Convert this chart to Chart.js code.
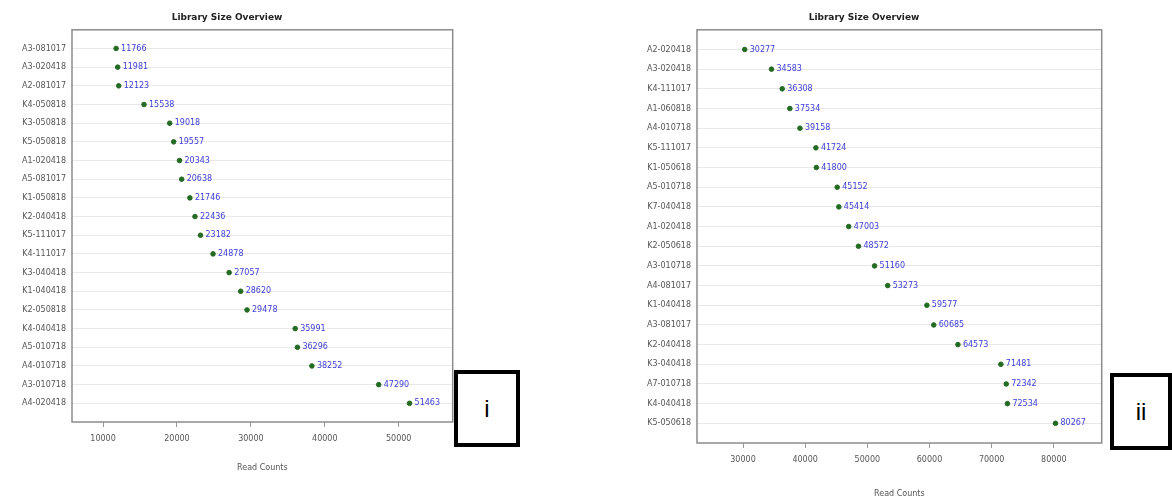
<!DOCTYPE html>
<html>
<head>
<meta charset="utf-8">
<script src="https://cdn.jsdelivr.net/npm/chart.js@4/dist/chart.umd.min.js"></script>
<style>
  body { margin: 0; background: #fff; width: 1172px; height: 500px; position: relative; overflow: hidden; }
  .wrap { position: absolute; }
  .tag { position: absolute; border: 4px solid #000; box-sizing: border-box; background: #fff;
         font-family: "Liberation Sans", Arial, sans-serif; font-size: 24px; display: flex;
         align-items: center; justify-content: center; }
</style>
</head>
<body>
<div class="wrap" id="wrapA" style="left:0px;top:0px;width:456px;height:473px;"><canvas id="chartA"></canvas></div>
<div class="wrap" id="wrapB" style="left:625px;top:0px;width:480px;height:499px;"><canvas id="chartB"></canvas></div>
<div class="tag" style="left:454px;top:370px;width:66px;height:77px;">i</div>
<div class="tag" style="left:1110px;top:373px;width:62px;height:77px;">ii</div>
<script>
// panel i
const labelsA = ["A3-081017", "A3-020418", "A2-081017", "K4-050818", "K3-050818", "K5-050818",
  "A1-020418", "A5-081017", "K1-050818", "K2-040418", "K5-111017", "K4-111017", "K3-040418",
  "K1-040418", "K2-050818", "K4-040418", "A5-010718", "A4-010718", "A3-010718", "A4-020418"];
const countsA = [11766, 11981, 12123, 15538, 19018, 19557, 20343, 20638, 21746, 22436, 23182,
  24878, 27057, 28620, 29478, 35991, 36296, 38252, 47290, 51463];
const ticksA = [10000, 20000, 30000, 40000, 50000];

// panel ii
const labelsB = ["A2-020418", "A3-020418", "K4-111017", "A1-060818", "A4-010718", "K5-111017",
  "K1-050618", "A5-010718", "K7-040418", "A1-020418", "K2-050618", "A3-010718", "A4-081017",
  "K1-040418", "A3-081017", "K2-040418", "K3-040418", "A7-010718", "K4-040418", "K5-050618"];
const countsB = [30277, 34583, 36308, 37534, 39158, 41724, 41800, 45152, 45414, 47003, 48572,
  51160, 53273, 59577, 60685, 64573, 71481, 72342, 72534, 80267];
const ticksB = [30000, 40000, 50000, 60000, 70000, 80000];

const valueLabels = {
  id: "valueLabels",
  afterDatasetsDraw(chart) {
    const ctx = chart.ctx;
    const meta = chart.getDatasetMeta(0);
    const data = chart.data.datasets[0].data;
    ctx.save();
    ctx.font = "8px 'DejaVu Sans'";
    ctx.fillStyle = "#3d3dd8";
    ctx.textBaseline = "middle";
    meta.data.forEach((pt, i) => {
      ctx.fillText(String(data[i].x), pt.x + 5, pt.y);
    });
    ctx.restore();
  }
};

const frame = {
  id: "frame",
  afterDraw(chart) {
    const a = chart.chartArea;
    const ctx = chart.ctx;
    ctx.save();
    ctx.strokeStyle = "#8c8c8c";
    ctx.lineWidth = 1.5;
    ctx.strokeRect(a.left, a.top, a.right - a.left, a.bottom - a.top);
    ctx.restore();
  }
};

function makeChart(id, labels, counts, ticks, xmin, xmax, axisH) {
  const pts = counts.map((v, i) => ({ x: v, y: i }));
  return new Chart(document.getElementById(id), {
    type: "scatter",
    data: {
      datasets: [{
        data: pts,
        backgroundColor: "#236b23",
        borderColor: "#236b23",
        pointRadius: 2.3,
        pointHoverRadius: 2.3
      }]
    },
    options: {
      responsive: true,
      maintainAspectRatio: false,
      animation: false,
      layout: { padding: { left: 0, right: 2, top: 0, bottom: 0 } },
      plugins: {
        legend: { display: false },
        tooltip: { enabled: false },
        title: {
          display: true,
          text: "Library Size Overview",
          color: "#222",
          font: { family: "DejaVu Sans", size: 9, weight: "bold" },
          padding: { top: 12, bottom: 7 }
        }
      },
      scales: {
        x: {
          type: "linear",
          min: xmin,
          max: xmax,
          afterBuildTicks: (s) => { s.ticks = ticks.map(v => ({ value: v })); },
          afterFit: (s) => { s.height = axisH; },
          grid: { drawOnChartArea: false, tickLength: 5, color: "#999" },
          border: { display: false },
          ticks: {
            color: "#555",
            font: { family: "DejaVu Sans", size: 8 },
            padding: 7,
            maxRotation: 0,
            callback: (v) => String(v)
          },
          title: {
            display: true,
            text: "Read Counts",
            color: "#555",
            font: { family: "DejaVu Sans", size: 8 },
            padding: { top: 12, bottom: 0 }
          }
        },
        y: {
          type: "linear",
          reverse: true,
          min: -1,
          max: labels.length,
          afterBuildTicks: (s) => { s.ticks = labels.map((l, i) => ({ value: i })); },
          afterFit: (s) => { s.width = 72; },
          grid: { color: "#e8e8e8", tickLength: 0, lineWidth: 1 },
          border: { display: false },
          ticks: {
            color: "#555",
            font: { family: "DejaVu Sans", size: 8 },
            padding: 6,
            autoSkip: false,
            callback: (v) => labels[v] || ""
          }
        }
      }
    },
    plugins: [valueLabels, frame]
  });
}

makeChart("chartA", labelsA, countsA, ticksA, 5800, 57300, 51);
makeChart("chartB", labelsB, countsB, ticksB, 22600, 87700, 56);
</script>
</body>
</html>
